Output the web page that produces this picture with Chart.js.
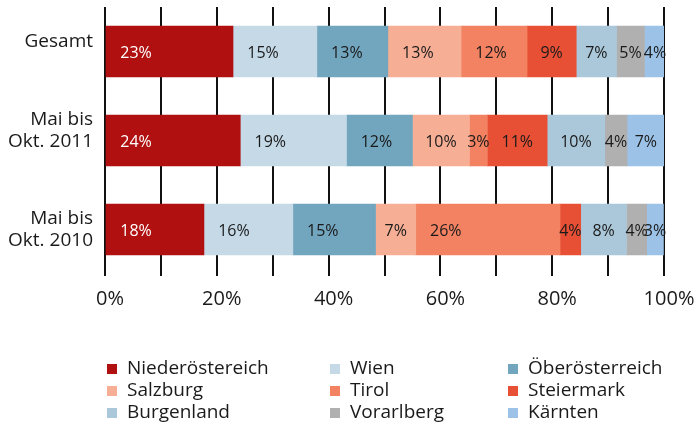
<script src="https://cdn.jsdelivr.net/npm/chart.js"></script>
<style>
  body { margin: 0; background: #fff; }
  #wrap { width: 695px; height: 425px; position: relative; }
</style>
<div id="wrap"><canvas id="chart" width="695" height="425"></canvas></div>
<script>
const categories = ["Gesamt", ["Mai bis", "Okt. 2011"], ["Mai bis", "Okt. 2010"]];
const regions = ["Niederöstereich", "Wien", "Öberösterreich", "Salzburg", "Tirol",
                 "Steiermark", "Burgenland", "Vorarlberg", "Kärnten"];
const colors = ["#b01010", "#c5d9e7", "#72a6bf", "#f6ae95", "#f28262",
                "#e85036", "#abc8da", "#b0b0b0", "#9cc2e7"];
// shares per region: [Gesamt, 2011, 2010]
const niederoesterreich = [22.9, 24.2, 17.7];
const wien = [15.0, 19.0, 15.9];
const oberoesterreich = [12.7, 11.8, 14.8];
const salzburg = [13.1, 10.2, 7.2];
const tirol = [11.8, 3.2, 25.8];
const steiermark = [8.8, 10.7, 3.7];
const burgenland = [7.2, 10.3, 8.2];
const vorarlberg = [5.0, 4.0, 3.6];
const kaernten = [3.8, 6.7, 3.0];
const series = [niederoesterreich, wien, oberoesterreich, salzburg, tirol,
                steiermark, burgenland, vorarlberg, kaernten];
const xTicks = [0, 20, 40, 60, 80, 100];

const FONT = "'Open Sans', sans-serif";
const INK = "#1a1a1a";

// segment labels sit ~30px into the bar, or centred if the bar is narrow
const segLabels = {
  id: "segLabels",
  afterDatasetsDraw(chart) {
    const ctx = chart.ctx;
    ctx.save();
    ctx.font = "16px " + FONT;
    ctx.textAlign = "center";
    ctx.textBaseline = "middle";
    chart.data.datasets.forEach((ds, i) => {
      chart.getDatasetMeta(i).data.forEach((bar, j) => {
        const w = bar.x - bar.base;
        const cx = bar.base + Math.min(30, w / 2);
        ctx.fillStyle = i === 0 ? "#fff" : INK;
        ctx.fillText(Math.round(ds.data[j]) + "%", cx, bar.y + 2);
      });
    });
    ctx.restore();
  }
};

// category labels (the first two sit a bit above the bar centre in the original)
const catLabels = {
  id: "catLabels",
  afterDraw(chart) {
    const ctx = chart.ctx, y = chart.scales.y;
    const shift = [-10, -10, 0];
    ctx.save();
    ctx.font = "19px " + FONT;
    ctx.fillStyle = INK;
    ctx.textAlign = "right";
    ctx.textBaseline = "middle";
    categories.forEach((c, i) => {
      const lines = Array.isArray(c) ? c : [c];
      const cy = y.getPixelForValue(i) + shift[i];
      lines.forEach((l, k) => {
        ctx.fillText(l, chart.chartArea.left - 12, cy + (k - (lines.length - 1) / 2) * 22);
      });
    });
    ctx.restore();
  }
};

const gridLegend = {
  id: "gridLegend",
  afterDraw(chart) {
    const ctx = chart.ctx;
    const colX = [107, 330, 508];
    const rowY = [369, 391, 413];
    ctx.save();
    ctx.font = "19px " + FONT;
    ctx.textBaseline = "middle";
    chart.data.datasets.forEach((ds, i) => {
      const x = colX[i % 3], y = rowY[Math.floor(i / 3)];
      ctx.fillStyle = ds.backgroundColor;
      ctx.fillRect(x, y - 5, 10, 10);
      ctx.fillStyle = INK;
      ctx.fillText(ds.label, x + 20, y);
    });
    ctx.restore();
  }
};

new Chart(document.getElementById("chart"), {
  type: "bar",
  data: {
    labels: categories,
    datasets: regions.map((r, i) => ({
      label: r,
      data: series[i],
      backgroundColor: colors[i],
      borderWidth: 0,
      barThickness: 51
    }))
  },
  options: {
    indexAxis: "y",
    responsive: false,
    animation: false,
    layout: { padding: { top: 7, right: 31, left: 0, bottom: 0 } },
    plugins: { legend: { display: false }, tooltip: { enabled: false } },
    scales: {
      x: {
        stacked: true,
        min: 0, max: 100,
        afterFit: s => { s.height = 151; s.paddingLeft = 0; s.paddingRight = 0; },
        grid: { color: "#111", lineWidth: 2, tickLength: 2 },
        border: { display: false },
        ticks: {
          stepSize: 10,
          autoSkip: false,
          maxRotation: 0,
          padding: 11,
          labelOffset: 5,
          color: INK,
          font: { family: FONT, size: 20 },
          callback: v => xTicks.includes(v) ? v + "%" : ""
        }
      },
      y: {
        stacked: true,
        afterFit: s => { s.width = 105; s.paddingTop = 0; s.paddingBottom = 0; },
        grid: { display: false },
        border: { display: false },
        ticks: { display: false }
      }
    }
  },
  plugins: [segLabels, catLabels, gridLegend]
});
</script>
